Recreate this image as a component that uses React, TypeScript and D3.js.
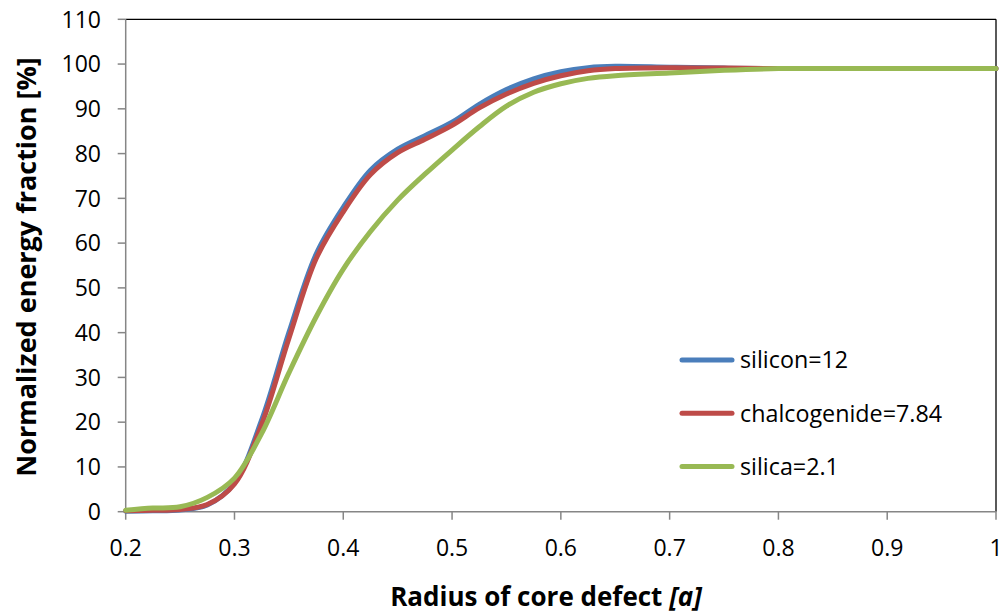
import * as d3 from 'd3';

const radius = [0.2, 0.225, 0.25, 0.275, 0.3, 0.325, 0.35, 0.375, 0.4, 0.425, 0.45, 0.475, 0.5, 0.525, 0.55, 0.575, 0.6, 0.625, 0.65, 0.7, 0.75, 0.8, 0.85, 0.9, 0.95, 1.0];
const silicon = [0.1, 0.2, 0.4, 1.5, 6.4, 20.5, 40, 57.5, 68, 76.3, 81, 84, 87, 91, 94.3, 96.7, 98.3, 99.2, 99.5, 99.3, 99.1, 99, 99, 99, 99, 99];
const chalcogenide = [0.2, 0.3, 0.5, 1.6, 6.2, 19.5, 38.7, 56.5, 67, 75.3, 80.2, 83.2, 86.3, 90.2, 93.3, 95.7, 97.4, 98.5, 99.0, 99.2, 99.1, 99, 99, 99, 99, 99];
const silica = [0.3, 0.8, 1.1, 3.2, 7.5, 17.5, 31, 43.5, 54.2, 62.6, 69.6, 75.4, 80.8, 86, 90.6, 93.7, 95.6, 96.8, 97.4, 98.0, 98.6, 99, 99, 99, 99, 99];

const seriesNames = ['silicon=12', 'chalcogenide=7.84', 'silica=2.1'];
const seriesValues = [silicon, chalcogenide, silica];
const colors = ['#4A7EBB', '#BE4B48', '#98B954'];

const xTicks = [0.2, 0.3, 0.4, 0.5, 0.6, 0.7, 0.8, 0.9, 1];
const yTicks = [0, 10, 20, 30, 40, 50, 60, 70, 80, 90, 100, 110];

const W = 1000;
const H = 613;
const left = 125.7;
const right = 996;
const top = 19.3;
const bottom = 511.7;
const font = "'Open Sans', 'Liberation Sans', sans-serif";

export default function App() {
  const x = d3.scaleLinear().domain([0.2, 1]).range([left, right]);
  const y = d3.scaleLinear().domain([0, 110]).range([bottom, top]);

  const line = d3.line<number>()
    .x((_, i) => x(radius[i]))
    .y(d => y(d))
    .curve(d3.curveCatmullRom.alpha(0.5));

  return (
    <svg width={W} height={H} style={{ position: 'absolute', left: 0, top: 0 }} fontFamily={font}>
      <rect width={W} height={H} fill="white" />

      {/* plot border: top and right in black */}
      <line x1={left} x2={right} y1={top} y2={top} stroke="#000" strokeWidth={1.3} />
      <line x1={right} x2={right} y1={top} y2={bottom} stroke="#000" strokeWidth={1.3} />

      {/* y axis */}
      <line x1={left} x2={left} y1={top} y2={bottom} stroke="#868686" strokeWidth={1.5} />
      {yTicks.map(t => (
        <g key={t}>
          <line x1={left - 8} x2={left} y1={y(t)} y2={y(t)} stroke="#868686" strokeWidth={1.5} />
          <text x={101} y={y(t)} dy="0.36em" textAnchor="end" fontSize={23} fill="#000">{t}</text>
        </g>
      ))}

      {/* x axis */}
      <line x1={left} x2={right} y1={bottom} y2={bottom} stroke="#868686" strokeWidth={1.5} />
      {xTicks.map(t => (
        <g key={t}>
          <line x1={x(t)} x2={x(t)} y1={bottom} y2={bottom + 8} stroke="#868686" strokeWidth={1.5} />
          <text x={x(t)} y={556} textAnchor="middle" fontSize={23} fill="#000">{t}</text>
        </g>
      ))}

      {/* series */}
      {seriesValues.map((vals, i) => (
        <path key={seriesNames[i]} d={line(vals) ?? ''} fill="none" stroke={colors[i]} strokeWidth={5} strokeLinejoin="round" strokeLinecap="round" />
      ))}

      {/* legend */}
      {seriesNames.map((name, i) => (
        <g key={name} transform={`translate(0, ${360 + i * 53.3})`}>
          <line x1={682} x2={732} y1={0} y2={0} stroke={colors[i]} strokeWidth={5} strokeLinecap="round" />
          <text x={740} y={0} dy="0.36em" fontSize={23.3} fill="#000">{name}</text>
        </g>
      ))}

      {/* axis titles */}
      <text x={546} y={606} textAnchor="middle" fontSize={26} fontWeight="bold" fill="#000">
        Radius of core defect <tspan fontStyle="italic">[a]</tspan>
      </text>
      <text transform={`translate(36, 267) rotate(-90)`} textAnchor="middle" fontSize={27} fontWeight="bold" fill="#000">
        Normalized energy fraction [%]
      </text>
    </svg>
  );
}
